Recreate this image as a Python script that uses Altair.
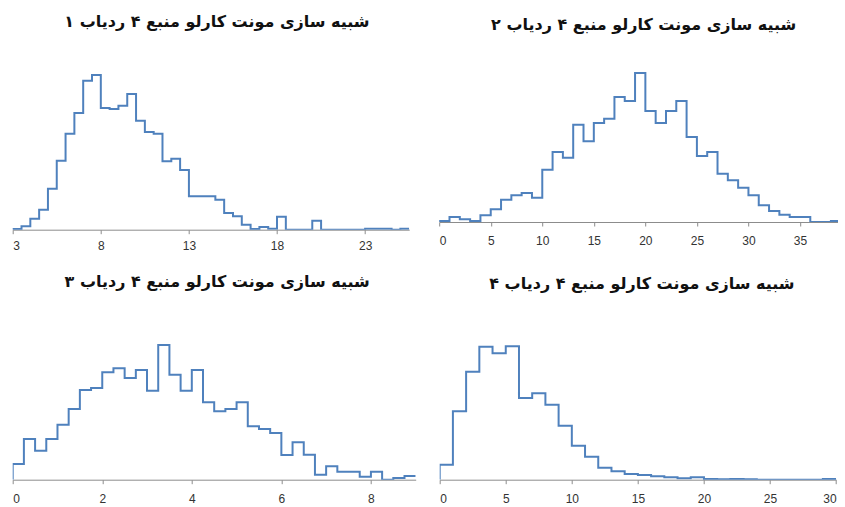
import altair as alt
import pandas as pd

# Monte Carlo simulation of source 4, one histogram per detector (counts per bin)
titles = [
    "شبیه سازی مونت کارلو منبع ۴ ردیاب ۱",
    "شبیه سازی مونت کارلو منبع ۴ ردیاب ۲",
    "شبیه سازی مونت کارلو منبع ۴ ردیاب ۳",
    "شبیه سازی مونت کارلو منبع ۴ ردیاب ۴",
]

# detector 1: bins of 0.5 starting at 3
d1_start, d1_width = 3.0, 0.5
d1_counts = [2, 10, 33, 60, 123, 207, 288, 350, 447, 464, 365, 362, 372, 407,
             327, 293, 288, 205, 213, 179, 100, 100, 100, 90, 50, 40, 15, 2,
             8, 3, 39, 0, 0, 0, 27, 0, 0, 0, 0, 0, 3, 3, 3, 0, 3]
d1_ticks = [3, 8, 13, 18, 23]
d1_domain = [3, 25.5]

# detector 2: bins of 1 starting at 0
d2_start, d2_width = 0.0, 1.0
d2_counts = [3, 15, 8, 3, 20, 38, 67, 80, 87, 73, 157, 210, 193, 292, 242,
             297, 310, 375, 363, 447, 333, 297, 333, 363, 255, 198, 210, 145,
             125, 103, 80, 50, 33, 22, 15, 15, 0, 0, 3]
d2_ticks = [0, 5, 10, 15, 20, 25, 30, 35]
d2_domain = [0, 38.9]

# detector 3: bins of 0.25 starting at 0
d3_start, d3_width = 0.0, 0.25
d3_counts = [47, 122, 87, 122, 165, 212, 269, 275, 322, 334, 305, 329, 267,
             404, 315, 267, 329, 232, 205, 212, 232, 160, 152, 140, 74, 112,
             75, 15, 40, 24, 24, 9, 24, 0, 5, 11]
d3_ticks = [0, 2, 4, 6, 8]
d3_domain = [0, 9]

# detector 4: bins of 1 starting at 0
d4_start, d4_width = 0.0, 1.0
d4_counts = [45, 205, 324, 399, 379, 400, 245, 259, 225, 162, 102, 69, 36, 25,
             17, 14, 10, 7, 4, 7, 2, 1, 2, 1, 0, 0, 0, 0, 0, 2]
d4_ticks = [0, 5, 10, 15, 20, 25, 30]
d4_domain = [0, 30]

LINE_COLOR = "#4f81bd"
AXIS_COLOR = "#8c8c8c"


def step_frame(start, width, counts):
    """Vertices of a step outline: rise from zero, one step per bin, close at the last edge."""
    rows = [{"x": start, "count": 0, "k": 0}]
    for i, c in enumerate(counts):
        rows.append({"x": start + i * width, "count": c, "k": i + 1})
    rows.append({"x": start + len(counts) * width, "count": counts[-1], "k": len(counts) + 1})
    return pd.DataFrame(rows)


def panel(title, start, width, counts, domain, ticks, w, h, ymax,
          title_offset, title_dx, label_padding):
    df = step_frame(start, width, counts)
    return (
        alt.Chart(df)
        .mark_line(interpolate="step-after", color=LINE_COLOR, strokeWidth=2, clip=True)
        .encode(
            x=alt.X("x:Q", scale=alt.Scale(domain=domain, nice=False, zero=False),
                    axis=alt.Axis(values=ticks, title=None, labelPadding=label_padding,
                                  format="d", zindex=0)),
            y=alt.Y("count:Q", scale=alt.Scale(domain=[0, ymax], nice=False), axis=None),
            order="k:Q",
        )
        .properties(
            width=w, height=h,
            title=alt.TitleParams(title, font="DejaVu Sans", fontSize=16, fontWeight="bold",
                                  color="#111111", anchor="middle", offset=title_offset,
                                  dx=title_dx),
        )
    )


p1 = panel(titles[0], d1_start, d1_width, d1_counts, d1_domain, d1_ticks,
           396.5, 166.7, 500, 33, 6, 7)
p2 = panel(titles[1], d2_start, d2_width, d2_counts, d2_domain, d2_ticks,
           401, 159, 477, 30, 4, 9.7)
p3 = panel(titles[2], d3_start, d3_width, d3_counts, d3_domain, d3_ticks,
           403, 166.7, 500, 23, 3, 10.3)
p4 = panel(titles[3], d4_start, d4_width, d4_counts, d4_domain, d4_ticks,
           396.4, 166.7, 500, 21, 4, 10.3)

top = alt.hconcat(p1, p2, spacing=28.5)
bottom = alt.hconcat(p3, p4, spacing=23)

chart = (
    alt.vconcat(top, bottom, spacing=22)
    .properties(padding={"left": 11.7, "top": 14, "right": -3, "bottom": 0}, background="white")
    .configure_view(stroke=None)
    .configure_axisX(
        domainColor=AXIS_COLOR, tickColor=AXIS_COLOR, tickSize=4, grid=False,
        labelFont="Liberation Sans", labelFontSize=12, labelColor="#333333",
    )
    .configure_title(font="DejaVu Sans")
)

chart.save("out.html", embed_options={"renderer": "svg", "actions": False})
